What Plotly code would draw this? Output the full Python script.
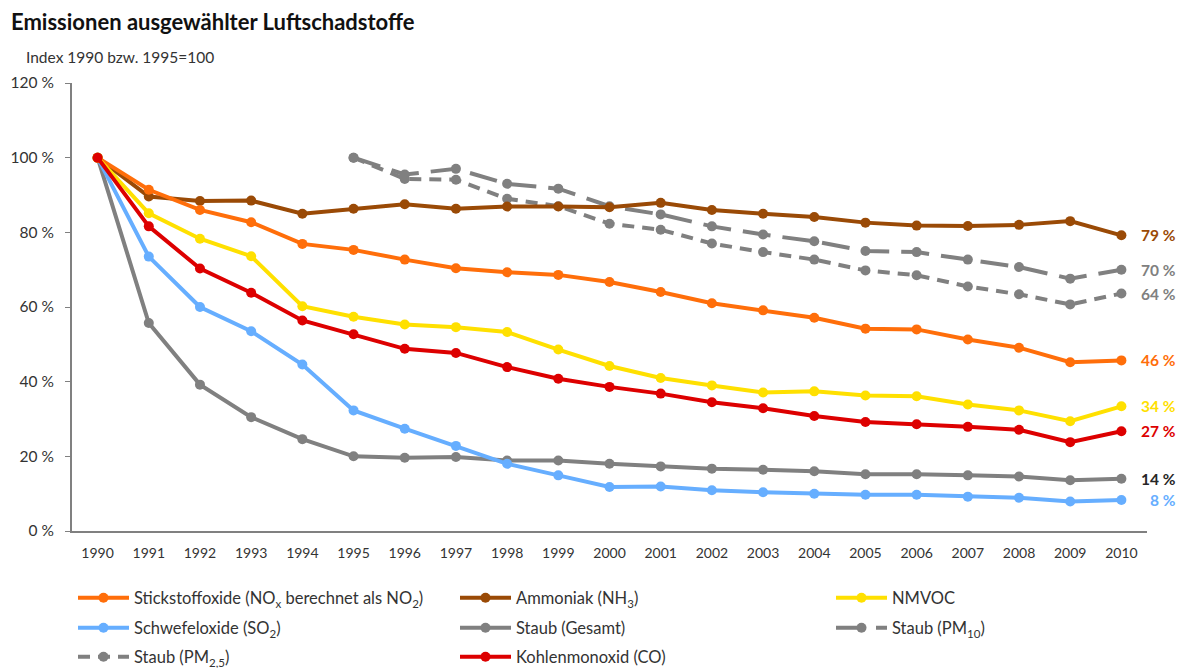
import plotly.graph_objects as go

years = list(range(1990, 2011))
years_pm = list(range(1995, 2011))

nox = [100, 91.4, 86.0, 82.7, 76.9, 75.3, 72.7, 70.4, 69.3, 68.6, 66.7, 64.0, 61.0, 59.1, 57.1, 54.2, 54.0, 51.3, 49.1, 45.2, 45.7]
nh3 = [100, 89.6, 88.4, 88.5, 85.0, 86.3, 87.5, 86.3, 86.9, 86.9, 86.7, 87.9, 86.0, 85.0, 84.1, 82.6, 81.8, 81.7, 82.0, 83.0, 79.2]
nmvoc = [100, 85.1, 78.3, 73.6, 60.2, 57.4, 55.3, 54.6, 53.3, 48.6, 44.2, 41.0, 39.0, 37.1, 37.4, 36.3, 36.1, 33.9, 32.3, 29.4, 33.4]
so2 = [100, 73.5, 60.0, 53.5, 44.6, 32.3, 27.4, 22.8, 18.0, 14.9, 11.8, 11.9, 10.9, 10.4, 10.0, 9.7, 9.7, 9.2, 8.9, 7.9, 8.3]
staub = [100, 55.7, 39.2, 30.5, 24.6, 20.0, 19.6, 19.8, 18.9, 18.9, 18.0, 17.3, 16.7, 16.4, 16.0, 15.2, 15.2, 14.9, 14.6, 13.6, 14.0]
pm10 = [100, 95.5, 97.0, 93.0, 91.7, 87.0, 84.8, 81.6, 79.4, 77.6, 75.0, 74.7, 72.7, 70.7, 67.6, 70.0]
pm25 = [100, 94.3, 94.1, 89.0, 87.0, 82.3, 80.7, 77.0, 74.7, 72.7, 69.8, 68.5, 65.5, 63.4, 60.7, 63.6]
co = [100, 81.6, 70.3, 63.8, 56.4, 52.7, 48.8, 47.7, 43.9, 40.8, 38.6, 36.8, 34.5, 32.9, 30.8, 29.2, 28.6, 27.9, 27.1, 23.8, 26.7]

names = {
    "nox": "Stickstoffoxide (NO<sub>x</sub> berechnet als NO<sub>2</sub>)",
    "nh3": "Ammoniak (NH<sub>3</sub>)",
    "nmvoc": "NMVOC",
    "so2": "Schwefeloxide (SO<sub>2</sub>)",
    "staub": "Staub (Gesamt)",
    "pm10": "Staub (PM<sub>10</sub>)",
    "pm25": "Staub (PM<sub>2,5</sub>)",
    "co": "Kohlenmonoxid (CO)",
}
colors = {
    "nox": "#FF6E0A", "nh3": "#9A4A06", "nmvoc": "#FFE000", "so2": "#66AEFF",
    "staub": "#808080", "pm10": "#808080", "pm25": "#808080", "co": "#DD0000",
}
end_labels = {"nh3": "79 %", "pm10": "70 %", "pm25": "64 %", "nox": "46 %",
              "nmvoc": "34 %", "co": "27 %", "staub": "14 %", "so2": "8 %"}
label_colors = {"nh3": "#9A4A06", "pm10": "#808080", "pm25": "#808080", "nox": "#FF6E0A",
                "nmvoc": "#FFE000", "co": "#DD0000", "staub": "#262626", "so2": "#66AEFF"}

y_ticks = [0, 20, 40, 60, 80, 100, 120]
y_tick_text = ["0 %", "20 %", "40 %", "60 %", "80 %", "100 %", "120 %"]

# The page body has an 8px margin; figure coordinates are page coordinates minus 8.
OFF = 8
W, H = 1184 - OFF, 668 - OFF

series = [
    ("staub", years, staub, "solid"),
    ("pm10", years_pm, pm10, "28px,12px"),
    ("pm25", years_pm, pm25, "12px,8px"),
    ("so2", years, so2, "solid"),
    ("nh3", years, nh3, "solid"),
    ("nox", years, nox, "solid"),
    ("nmvoc", years, nmvoc, "solid"),
    ("co", years, co, "solid"),
]

# legend cell (column x on page, row y on page)
col_x = [73, 455, 831]
row_y = [598, 628, 657]
cells = {"nox": (0, 0), "nh3": (1, 0), "nmvoc": (2, 0),
         "so2": (0, 1), "staub": (1, 1), "pm10": (2, 1),
         "pm25": (0, 2), "co": (1, 2)}
legend_ids = {}
for i, key in enumerate(["nox", "nh3", "nmvoc", "so2", "staub", "pm10", "pm25", "co"]):
    legend_ids[key] = "legend" if i == 0 else f"legend{i + 1}"

fig = go.Figure()
for key, xs, ys, dash in series:
    fig.add_trace(go.Scatter(
        x=xs, y=ys, name=names[key], mode="lines+markers",
        line=dict(color=colors[key], width=4, dash=dash),
        marker=dict(color=colors[key], size=10),
        legend=legend_ids[key], showlegend=True,
    ))

plot_l, plot_r, plot_t, plot_b = 72 - OFF, 1147 - OFF, 83 - OFF, 531 - OFF
pw = plot_r - plot_l
ph = plot_b - plot_t

for key, xs, ys, dash in series:
    fig.add_annotation(
        x=(1178 - OFF - plot_l) / pw, xref="paper", y=ys[-1], yref="y",
        text="<b>" + end_labels[key] + "</b>",
        showarrow=False, xanchor="right", yanchor="middle",
        font=dict(size=15.5, color=label_colors[key], family="Lato"),
    )

fig.add_annotation(
    x=(24 - OFF - plot_l) / pw, xref="paper", y=(plot_b - (57 - OFF)) / ph, yref="paper",
    text="Index 1990 bzw. 1995=100", showarrow=False, xanchor="left", yanchor="middle",
    font=dict(size=15.5, color="#333333", family="Lato"),
)

layout_legends = {}
for key, lid in legend_ids.items():
    c, r = cells[key]
    layout_legends[lid] = dict(
        orientation="h", xref="container", yref="container",
        x=(col_x[c] - OFF) / W, xanchor="left",
        y=1 - (row_y[r] - OFF) / H, yanchor="middle",
        font=dict(size=16.5, color="#333333", family="Lato"),
        itemwidth=51, bgcolor="rgba(0,0,0,0)", visible=True,
    )

fig.update_layout(
    width=W, height=H, showlegend=True,
    margin=dict(l=plot_l, r=W - plot_r, t=plot_t, b=H - plot_b, autoexpand=False),
    paper_bgcolor="white", plot_bgcolor="white",
    font=dict(family="Lato", color="#333333"),
    title=dict(text="<b>Emissionen ausgewählter Luftschadstoffe</b>", x=(11 - OFF) / W,
               xanchor="left", y=1 - (22 - OFF) / H, yanchor="middle",
               font=dict(size=22, color="#111111", family="Lato")),
    xaxis=dict(range=[1989.5, 2010.5], tickmode="array", tickvals=years,
               ticktext=[str(y) for y in years], showgrid=False, zeroline=False,
               showline=True, linecolor="#808080", linewidth=2, ticks="",
               ticklabelstandoff=8, automargin=False,
               tickfont=dict(size=14, color="#333333", family="Lato")),
    yaxis=dict(range=[0, 120], tickmode="array", tickvals=y_ticks, ticktext=y_tick_text,
               showgrid=False, zeroline=False, showline=True, linecolor="#808080", linewidth=2,
               ticks="outside", ticklen=5, tickcolor="#808080", ticklabelstandoff=8,
               automargin=False,
               tickfont=dict(size=15.5, color="#333333", family="Lato")),
    **layout_legends,
)

fig.write_html("out.html")
